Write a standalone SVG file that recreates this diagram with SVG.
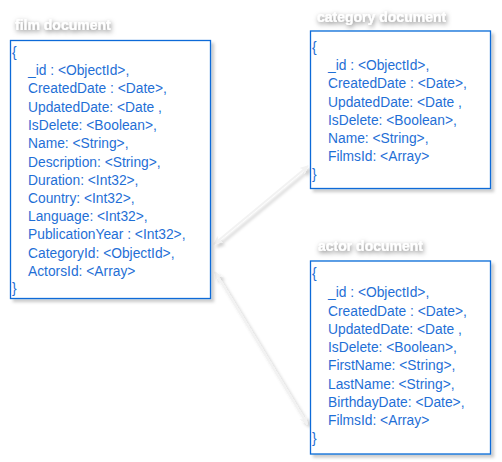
<svg xmlns="http://www.w3.org/2000/svg" width="502" height="462" viewBox="0 0 502 462">
<style>
.box{fill:#fff;stroke:#0a6ad8;stroke-width:1.3}
.t{font-family:"Liberation Sans",Arial,sans-serif;font-size:13.8px;fill:#1f6fd6}
.title{font-family:"Liberation Sans",Arial,sans-serif;font-size:14px;font-weight:bold;fill:#fff}
.conn{stroke:#f2f2f2;stroke-width:2;fill:none}
</style>
<defs>
<filter id="sh" x="-10%" y="-10%" width="130%" height="130%">
<feDropShadow dx="3" dy="3" stdDeviation="1.5" flood-color="#000" flood-opacity="0.2"/>
</filter>
<filter id="tsh" x="-20%" y="-80%" width="140%" height="260%">
<feGaussianBlur in="SourceAlpha" stdDeviation="2.6"/>
<feOffset dx="1" dy="2" result="b"/>
<feFlood flood-color="#000" flood-opacity="0.55"/>
<feComposite in2="b" operator="in"/>
<feMerge><feMergeNode/><feMergeNode in="SourceGraphic"/></feMerge>
</filter>
<marker id="ah" markerWidth="10" markerHeight="10" refX="8" refY="5" orient="auto-start-reverse" markerUnits="userSpaceOnUse">
<path d="M0,1 L9,5 L0,9 L2.5,5 z" fill="#f2f2f2"/>
</marker>
</defs>
<g id="connectors" filter="url(#sh)">
<line class="conn" x1="308" y1="166" x2="214" y2="244" marker-start="url(#ah)" marker-end="url(#ah)"/>
<line class="conn" x1="215" y1="272" x2="307" y2="424" marker-start="url(#ah)" marker-end="url(#ah)"/>
</g>
<g id="film">
<text class="title" x="15" y="30" filter="url(#tsh)">film document</text>
<rect class="box" x="10.5" y="40.5" width="200" height="258" filter="url(#sh)"/>
<g class="t">
<text x="12" y="57">{</text>
<text x="28" y="75">_id : &lt;ObjectId&gt;,</text>
<text x="28" y="93">CreatedDate : &lt;Date&gt;,</text>
<text x="28" y="111.5">UpdatedDate: &lt;Date ,</text>
<text x="28" y="130">IsDelete: &lt;Boolean&gt;,</text>
<text x="28" y="148">Name: &lt;String&gt;,</text>
<text x="28" y="166.5">Description: &lt;String&gt;,</text>
<text x="28" y="184.5">Duration: &lt;Int32&gt;,</text>
<text x="28" y="203">Country: &lt;Int32&gt;,</text>
<text x="28" y="221">Language: &lt;Int32&gt;,</text>
<text x="28" y="239">PublicationYear : &lt;Int32&gt;,</text>
<text x="28" y="257.5">CategoryId: &lt;ObjectId&gt;,</text>
<text x="28" y="275.5">ActorsId: &lt;Array&gt;</text>
<text x="12" y="293">}</text>
</g>
</g>
<g id="category">
<text class="title" x="317" y="22" filter="url(#tsh)">category document</text>
<rect class="box" x="310.5" y="31" width="180" height="157.5" filter="url(#sh)"/>
<g class="t">
<text x="312" y="52">{</text>
<text x="328" y="70">_id : &lt;ObjectId&gt;,</text>
<text x="328" y="88">CreatedDate : &lt;Date&gt;,</text>
<text x="328" y="106.5">UpdatedDate: &lt;Date ,</text>
<text x="328" y="124.5">IsDelete: &lt;Boolean&gt;,</text>
<text x="328" y="142.5">Name: &lt;String&gt;,</text>
<text x="328" y="161">FilmsId: &lt;Array&gt;</text>
<text x="312" y="179">}</text>
</g>
</g>
<g id="actor">
<text class="title" x="318" y="251" filter="url(#tsh)">actor document</text>
<rect class="box" x="310.5" y="261" width="180" height="193" filter="url(#sh)"/>
<g class="t">
<text x="312" y="278">{</text>
<text x="328" y="297">_id : &lt;ObjectId&gt;,</text>
<text x="328" y="315.5">CreatedDate : &lt;Date&gt;,</text>
<text x="328" y="334">UpdatedDate: &lt;Date ,</text>
<text x="328" y="352">IsDelete: &lt;Boolean&gt;,</text>
<text x="328" y="370">FirstName: &lt;String&gt;,</text>
<text x="328" y="388.5">LastName: &lt;String&gt;,</text>
<text x="328" y="406.5">BirthdayDate: &lt;Date&gt;,</text>
<text x="328" y="424.5">FilmsId: &lt;Array&gt;</text>
<text x="312" y="442.5">}</text>
</g>
</g>
</svg>
